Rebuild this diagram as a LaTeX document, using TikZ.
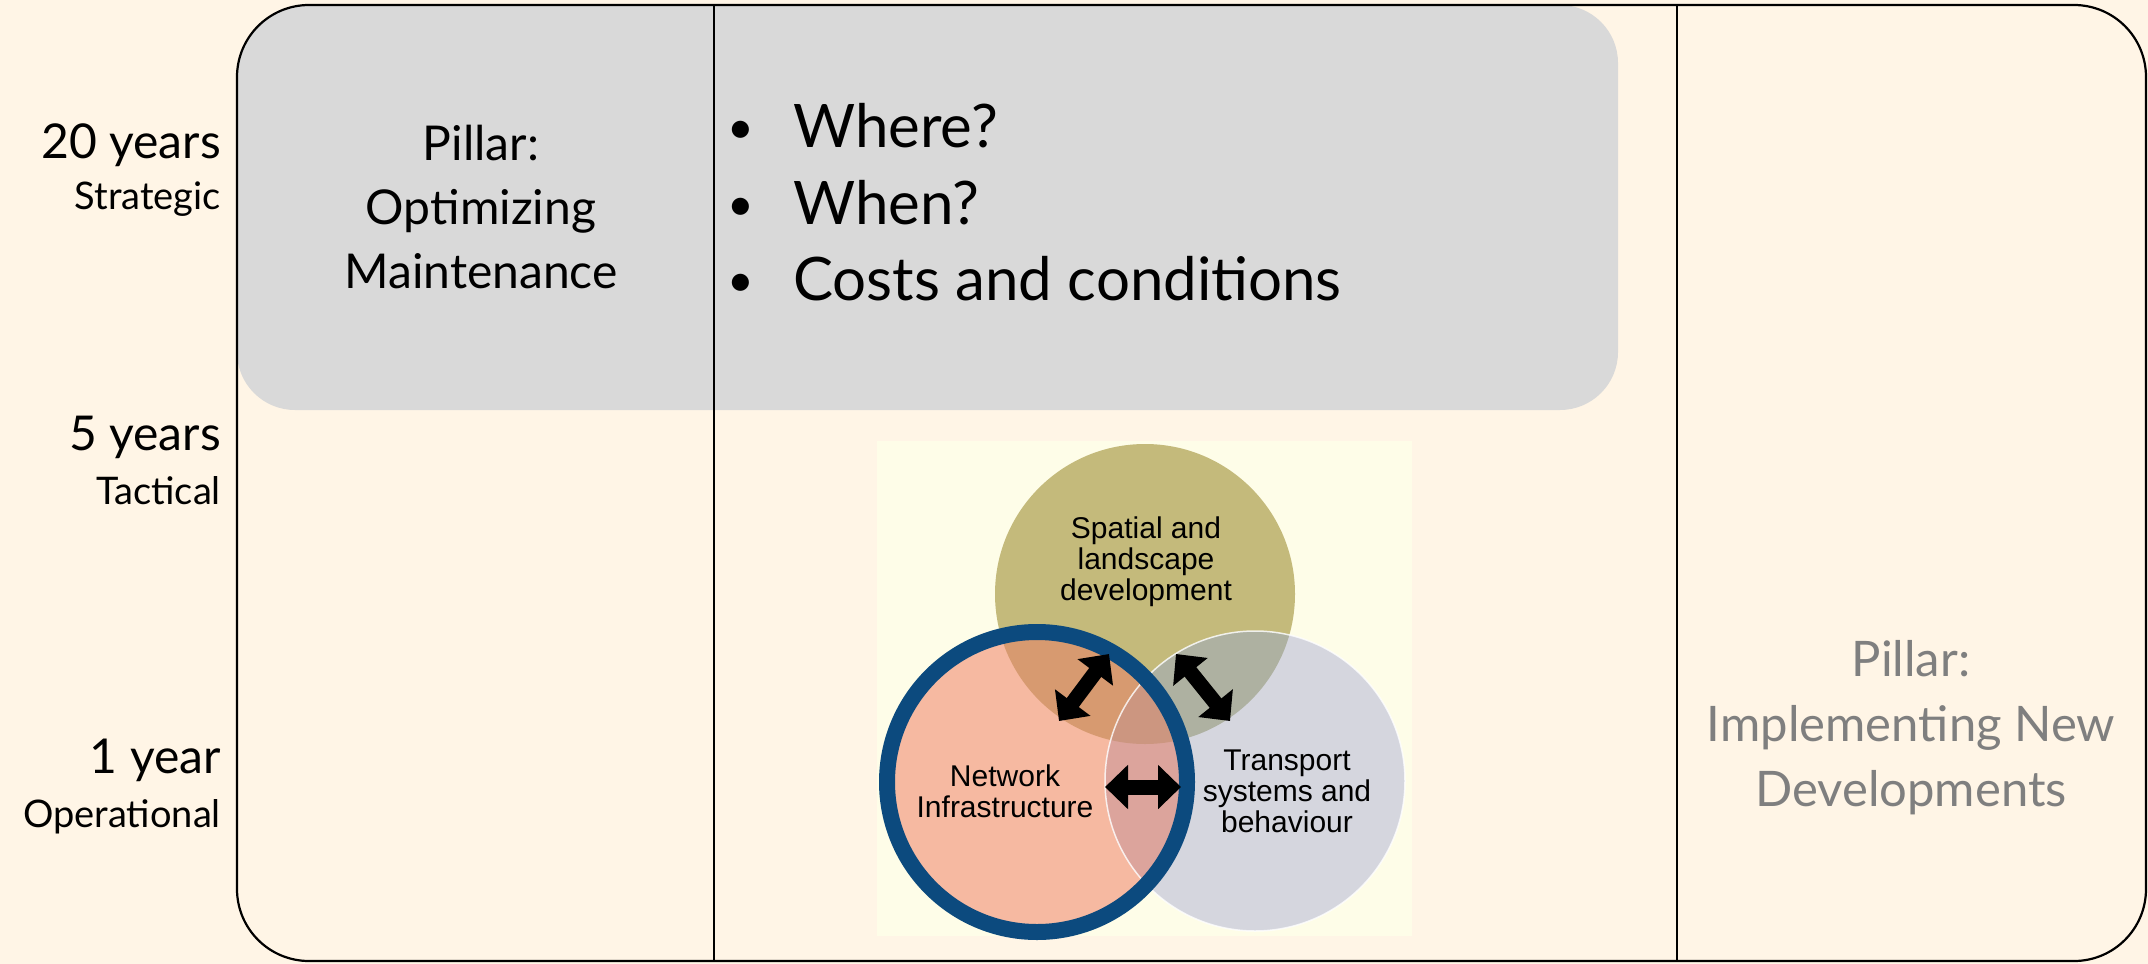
\documentclass[tikz,border=0pt]{standalone}
\usepackage{fontspec}
\setmainfont{Lato}
\newfontfamily\arialfont{Liberation Sans}
\usetikzlibrary{arrows.meta}
\definecolor{cream}{HTML}{FFF5E6}
\definecolor{boxgray}{HTML}{D9D9D9}
\definecolor{vennbg}{HTML}{FEFDE8}
\definecolor{olivec}{HTML}{C4BA7B}
\definecolor{pinkc}{HTML}{F6B9A1}
\definecolor{grayc}{HTML}{D5D6DE}
\definecolor{pinkolive}{HTML}{D79A70}
\definecolor{olivegray}{HTML}{AEB1A1}
\definecolor{pinkgray}{HTML}{DCA49C}
\definecolor{triple}{HTML}{CC9680}
\definecolor{ringblue}{HTML}{0C4A7E}
\definecolor{pillargray}{HTML}{7F7F7F}
\begin{document}
\begin{tikzpicture}[x=1pt,y=-1pt,
  biglabel/.style={anchor=base east, inner sep=0pt, font=\fontsize{48}{56}\selectfont},
  smalllabel/.style={anchor=base east, inner sep=0pt, font=\fontsize{38}{44}\selectfont},
  pillar/.style={align=center, inner sep=0pt, font=\fontsize{48}{64}\selectfont},
  bullettext/.style={anchor=base west, inner sep=0pt, font=\fontsize{60}{70}\selectfont},
  bulletdot/.style={anchor=base, inner sep=0pt, font=\fontsize{46}{50}\selectfont},
  venntext/.style={align=center, inner sep=0pt, font=\arialfont\fontsize{30}{31}\selectfont},
  dblarrow/.style={line width=15pt, {Triangle[length=23pt,width=43pt]}-{Triangle[length=23pt,width=43pt]}},
  frame/.style={line width=2.2pt, draw=black}
]
% background
\fill[cream] (0,0) rectangle (2148,964);
\useasboundingbox (0,0) rectangle (2148,964);
% gray strategic box, clipped to outer frame
\begin{scope}
  \clip[rounded corners=72pt] (237,5) rectangle (2146,961);
  \fill[boxgray, rounded corners=58pt] (237,5) rectangle (1618,410);
\end{scope}
% outer frame and dividers
\draw[frame, rounded corners=72pt] (237,5) rectangle (2146,961);
\draw[line width=2pt] (714,5) -- (714,961);
\draw[line width=2pt] (1677,5) -- (1677,961);

% left labels
\node[biglabel] (y20) at (221,158) {20 years};
\node[smalllabel] (strat) at (221,209) {Strategic};
\node[biglabel] (y5) at (221,450) {5 years};
\node[smalllabel] (tact) at (221,504) {Tactical};
\node[biglabel] (y1) at (221,773) {1 year};
\node[smalllabel] (oper) at (221,827) {Operational};

% pillar optimizing
\node[pillar] (optim) at (481,207) {Pillar:\\Optimizing\\Maintenance};

% bullets
\node[bulletdot] (b1) at (741,143) {•};
\node[bullettext] (w1) at (793,147) {Where?};
\node[bulletdot] (b2) at (741,220) {•};
\node[bullettext] (w2) at (793,224) {When?};
\node[bulletdot] (b3) at (741,296) {•};
\node[bullettext] (w3) at (793,300) {Costs and conditions};

% pillar implementing
\node[pillar, text=pillargray, font=\fontsize{49}{65}\selectfont] (impl) at (1911,728) {Pillar:\\Implementing New\\Developments};

% Venn diagram
\fill[vennbg] (877,441) rectangle (1412,936);
\coordinate (olc) at (1145,594);
\coordinate (pkc) at (1037,782);
\coordinate (grc) at (1255,781);
\fill[olivec] (olc) circle[radius=150pt];
\fill[pinkc] (pkc) circle[radius=150pt];
\fill[grayc] (grc) circle[radius=150pt];
\begin{scope}
  \clip (olc) circle[radius=150pt];
  \fill[pinkolive] (pkc) circle[radius=150pt];
\end{scope}
\begin{scope}
  \clip (olc) circle[radius=150pt];
  \fill[olivegray] (grc) circle[radius=150pt];
\end{scope}
\begin{scope}
  \clip (pkc) circle[radius=150pt];
  \fill[pinkgray] (grc) circle[radius=150pt];
\end{scope}
\begin{scope}
  \clip (olc) circle[radius=150pt];
  \clip (pkc) circle[radius=150pt];
  \fill[triple] (grc) circle[radius=150pt];
\end{scope}
\draw[white, line width=1.5pt, opacity=0.8] (grc) circle[radius=150pt];
\draw[ringblue, line width=16pt] (pkc) circle[radius=150pt];

\node[venntext] (spatial) at (1146,562) {Spatial and\\landscape\\development};
\node[venntext] (network) at (1005,791) {Network\\Infrastructure};
\node[venntext] (transport) at (1287,791) {Transport\\systems and\\behaviour};

% arrows
\coordinate (a1s) at (1059,721);
\coordinate (a1e) at (1109,654);
\coordinate (a2s) at (1176,654);
\coordinate (a2e) at (1230,721);
\coordinate (a3s) at (1105,787);
\coordinate (a3e) at (1181,787);
\draw[dblarrow] (a1s) -- (a1e);
\draw[dblarrow] (a2s) -- (a2e);
\draw[dblarrow] (a3s) -- (a3e);
\end{tikzpicture}
\end{document}
